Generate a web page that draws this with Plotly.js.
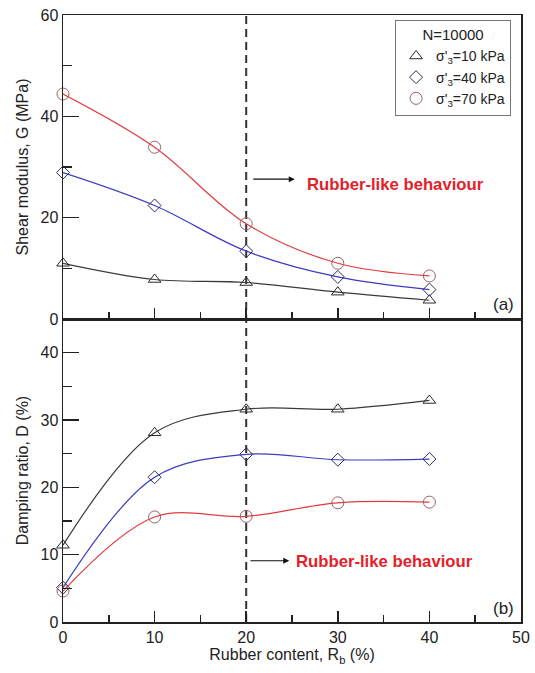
<!DOCTYPE html>
<html>
<head>
<meta charset="utf-8">
<script src="https://cdn.plot.ly/plotly-3.0.1.min.js"></script>
<style>
  html, body { margin: 0; padding: 0; background: #fff; }
  #chart { width: 535px; height: 673px; }
</style>
</head>
<body>
<div id="chart"></div>
<script>
// Rubber content (%)
const rubber = [0, 10, 20, 30, 40];

// Shear modulus G (MPa), N = 10000
const G_10kPa = [11.0, 7.8, 7.2, 5.3, 3.7];
const G_40kPa = [28.9, 22.4, 13.4, 8.3, 5.8];
const G_70kPa = [44.4, 33.9, 18.8, 11.0, 8.5];

// Damping ratio D (%), N = 10000
const D_10kPa = [11.4, 28.1, 31.6, 31.6, 32.9];
const D_40kPa = [5.1, 21.5, 24.9, 24.1, 24.2];
const D_70kPa = [4.6, 15.6, 15.7, 17.7, 17.8];

const seriesNames = ["σ'<sub>3</sub>=10 kPa", "σ'<sub>3</sub>=40 kPa", "σ'<sub>3</sub>=70 kPa"];

const FONT = 'Liberation Sans, Arial, sans-serif';
const lineColors = ['#3a3a3a', '#3c3cc4', '#e33a3f'];
const markerColors = ['#2a2a2a', '#2c2c5c', '#9a6464'];
const symbols = ['triangle-up-open', 'diamond-open', 'circle-open'];
const sizes = [11, 10, 12];

function markerStyle(i) {
  return { symbol: symbols[i], size: sizes[i], color: markerColors[i], line: { width: 1, color: markerColors[i] } };
}

function curve(y, i, xa, ya) {
  return {
    x: rubber, y: y, xaxis: xa, yaxis: ya,
    mode: 'lines+markers', type: 'scatter', showlegend: false,
    cliponaxis: false,
    line: { color: lineColors[i], width: 1.2, shape: 'spline', smoothing: 1 },
    marker: markerStyle(i)
  };
}

const traces = [
  curve(G_10kPa, 0, 'x2', 'y2'),
  curve(G_40kPa, 1, 'x2', 'y2'),
  curve(G_70kPa, 2, 'x2', 'y2'),
  curve(D_10kPa, 0, 'x', 'y'),
  curve(D_40kPa, 1, 'x', 'y'),
  curve(D_70kPa, 2, 'x', 'y')
];

// legend entries: symbols only
seriesNames.forEach((name, i) => {
  traces.push({
    x: [null], y: [null], xaxis: 'x2', yaxis: 'y2',
    mode: 'markers', type: 'scatter', name: name, showlegend: true,
    marker: markerStyle(i)
  });
});

const axisCommon = {
  showline: true, linecolor: '#222', linewidth: 1.5, mirror: true,
  ticks: 'inside', tickcolor: '#222', tickwidth: 1.5,
  showgrid: false, zeroline: false,
  tickfont: { family: FONT, size: 16, color: '#222' }
};

const xCommon = Object.assign({}, axisCommon, {
  range: [0, 50], tick0: 0, dtick: 10, ticklen: 11,
  minor: { dtick: 5, ticklen: 7, ticks: 'inside', tickcolor: '#222', tickwidth: 1.5 }
});

const split = 303 / 607;

const layout = {
  width: 535, height: 673,
  margin: { l: 63, r: 14, t: 15, b: 51 },
  paper_bgcolor: '#fff', plot_bgcolor: '#fff',
  font: { family: FONT, color: '#222' },
  xaxis: Object.assign({}, xCommon, {
    anchor: 'y', domain: [0, 1],
    title: { text: 'Rubber content, R<sub>b</sub> (%)', font: { family: FONT, size: 16, color: '#222' }, standoff: 4 }
  }),
  xaxis2: Object.assign({}, xCommon, {
    anchor: 'y2', domain: [0, 1], matches: 'x', showticklabels: false
  }),
  yaxis: Object.assign({}, axisCommon, {
    domain: [0, split], anchor: 'x', range: [0, 45], tick0: 0, dtick: 10, ticklen: 16,
    minor: { dtick: 5, ticklen: 9, ticks: 'inside', tickcolor: '#222', tickwidth: 1.5 },
    title: { text: 'Damping ratio, D (%)', font: { family: FONT, size: 16, color: '#222' }, standoff: 8 }
  }),
  yaxis2: Object.assign({}, axisCommon, {
    domain: [split, 1], anchor: 'x2', range: [0, 60], tick0: 0, dtick: 20, ticklen: 16,
    minor: { dtick: 10, ticklen: 9, ticks: 'inside', tickcolor: '#222', tickwidth: 1.5 },
    title: { text: 'Shear modulus, G (MPa)', font: { family: FONT, size: 16, color: '#222' }, standoff: 8 }
  }),
  legend: {
    x: 0.725, y: 0.992, xanchor: 'left', yanchor: 'top',
    bgcolor: '#fff', bordercolor: '#777', borderwidth: 1,
    font: { family: FONT, size: 14, color: '#222' },
    title: { text: 'N=10000', side: 'top center', font: { family: FONT, size: 15, color: '#222' } },
    tracegroupgap: 0
  },
  shapes: [
    {
      type: 'line', xref: 'x', yref: 'paper', x0: 20, x1: 20, y0: 0, y1: 1,
      line: { color: '#333', width: 2, dash: '8px,5px' }, layer: 'below'
    }
  ],
  annotations: [
    {
      xref: 'x2', yref: 'y2', axref: 'x2', ayref: 'y2',
      x: 25.3, y: 27.6, ax: 20.6, ay: 27.6, text: '',
      showarrow: true, arrowhead: 2, arrowsize: 1, arrowwidth: 1.2, arrowcolor: '#111'
    },
    {
      xref: 'x2', yref: 'y2', x: 26.4, y: 26.6, xanchor: 'left', yanchor: 'middle',
      text: '<b>Rubber-like behaviour</b>', showarrow: false,
      font: { family: FONT, size: 16.7, color: '#e3212a' }
    },
    {
      xref: 'x', yref: 'y', axref: 'x', ayref: 'y',
      x: 24.7, y: 9.1, ax: 20.3, ay: 9.1, text: '',
      showarrow: true, arrowhead: 2, arrowsize: 1, arrowwidth: 1.2, arrowcolor: '#111'
    },
    {
      xref: 'x', yref: 'y', x: 25.2, y: 9.0, xanchor: 'left', yanchor: 'middle',
      text: '<b>Rubber-like behaviour</b>', showarrow: false,
      font: { family: FONT, size: 16.7, color: '#e3212a' }
    },
    {
      xref: 'x2', yref: 'y2', x: 49.4, y: 2.8, xanchor: 'right', yanchor: 'middle',
      text: '(a)', showarrow: false, font: { family: FONT, size: 17, color: '#222' }
    },
    {
      xref: 'x', yref: 'y', x: 49.4, y: 2.0, xanchor: 'right', yanchor: 'middle',
      text: '(b)', showarrow: false, font: { family: FONT, size: 17, color: '#222' }
    }
  ]
};

Plotly.newPlot('chart', traces, layout, { displayModeBar: false, staticPlot: true });
</script>
</body>
</html>
